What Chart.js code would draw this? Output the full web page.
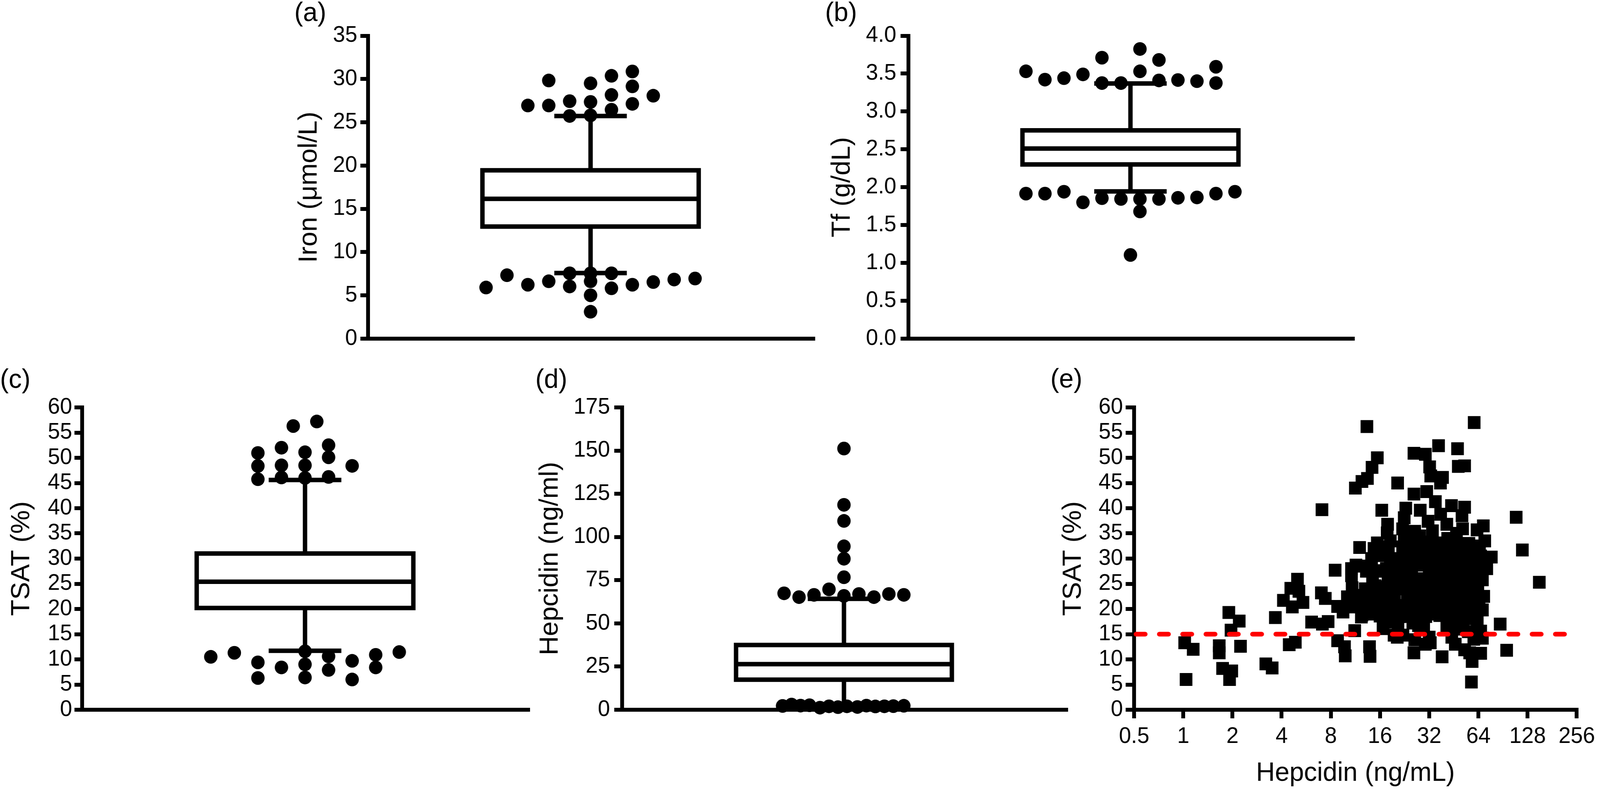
<!DOCTYPE html>
<html>
<head>
<meta charset="utf-8">
<script src="https://cdn.jsdelivr.net/npm/chart.js@4/dist/chart.umd.min.js"></script>
<style>
html,body{margin:0;padding:0;background:#ffffff;overflow:hidden;}
#root{position:absolute;left:0;top:0;width:4169px;height:2025px;transform-origin:0 0;background:#fff;overflow:hidden;
      font-family:'Liberation Sans',Arial,Helvetica,sans-serif;}
canvas{position:absolute;}
.lbl{position:absolute;font-size:68px;line-height:68px;color:#000;white-space:nowrap;font-family:'Liberation Sans',Arial,Helvetica,sans-serif;}
</style>
</head>
<body>
<div id="root">
<div class="lbl" style="left:767px;top:-4px">(a)</div>
<div class="lbl" style="left:2150px;top:-4px">(b)</div>
<div class="lbl" style="left:0px;top:935px">(c)</div>
<div class="lbl" style="left:1395px;top:935px">(d)</div>
<div class="lbl" style="left:2737px;top:934px">(e)</div>
<canvas id="chartA"></canvas>
<canvas id="chartB"></canvas>
<canvas id="chartC"></canvas>
<canvas id="chartD"></canvas>
<canvas id="chartE"></canvas>
</div>
<script>
// ---------------- DATA ----------------
// Box statistics: [lower whisker, Q1, median, Q3, upper whisker]
const ironBox = [7.58, 12.95, 16.16, 19.45, 25.73];
const ironOutliers = [26.94, 29.83, 26.94, 27.44, 25.73, 29.5, 27.35, 25.8, 30.37, 28.16, 26.45, 30.87, 29.15, 27.13, 28.07,
                      5.91, 7.33, 6.23, 6.63, 7.55, 6.03, 7.55, 6.63, 5.01, 3.11, 7.55, 5.82, 6.23, 6.54, 6.83, 6.95];
const ironSwarmColumns = [-3, -2, -2, -1, -1, 0, 0, 0, 1, 1, 1, 2, 2, 2, 3,
                          -5, -4, -3, -2, -1, -1, 0, 0, 0, 0, 1, 1, 2, 3, 4, 5];
const ironTicks = [0, 5, 10, 15, 20, 25, 30, 35];
const ironTickLabels = ['0', '5', '10', '15', '20', '25', '30', '35'];

const tfBox = [1.945, 2.30, 2.51, 2.75, 3.37];
const tfOutliers = [3.53, 3.42, 3.44, 3.49, 3.71, 3.375, 3.375, 3.825, 3.53, 3.68, 3.41, 3.415, 3.40, 3.59, 3.375,
                    1.915, 1.915, 1.94, 1.80, 1.855, 1.845, 1.845, 1.68, 1.845, 1.86, 1.865, 1.915, 1.94, 1.105];
const tfSwarmColumns = [-5.5, -4.5, -3.5, -2.5, -1.5, -1.5, -0.5, 0.5, 0.5, 1.5, 1.5, 2.5, 3.5, 4.5, 4.5,
                        -5.5, -4.5, -3.5, -2.5, -1.5, -0.5, 0.5, 0.5, 1.5, 2.5, 3.5, 4.5, 5.5, 0];
const tfTicks = [0, 0.5, 1, 1.5, 2, 2.5, 3, 3.5, 4];
const tfTickLabels = ['0.0', '0.5', '1.0', '1.5', '2.0', '2.5', '3.0', '3.5', '4.0'];

const tsatBox = [11.7, 20.2, 25.4, 31.0, 45.6];
const tsatOutliers = [50.95, 48.37, 45.75, 52.0, 48.5, 46.1, 51.1, 48.5, 46.0, 52.5, 50.1, 46.2, 48.4, 56.3, 57.2,
                      10.5, 11.3, 9.4, 6.3, 8.4, 11.6, 9.0, 6.4, 10.6, 7.9, 9.7, 6.0, 10.9, 8.4, 11.45];
const tsatSwarmColumns = [-2, -2, -2, -1, -1, -1, 0, 0, 0, 1, 1, 1, 2, -0.5, 0.5,
                          -4, -3, -2, -2, -1, 0, 0, 0, 1, 1, 2, 2, 3, 3, 4];
const tsatTicks = [0, 5, 10, 15, 20, 25, 30, 35, 40, 45, 50, 55, 60];
const tsatTickLabels = ['0', '5', '10', '15', '20', '25', '30', '35', '40', '45', '50', '55', '60'];

const hepBox = [2.0, 17.4, 26.4, 37.5, 64.2];
const hepOutliers = [151.2, 118.6, 109.3, 94.6, 87.4, 76.7, 65.9, 67.4, 65.2, 66.5, 69.7, 67.0, 65.2, 67.0, 66.5,
                     2.2, 3.0, 2.4, 2.6, 1.2, 2.0, 1.5, 2.0, 1.6, 2.4, 1.9, 2.0, 2.1, 2.3];
const hepSwarmColumns = [0, 0, 0, 0, 0, 0, 0, -4, -3, -2, -1, 1, 2, 3, 4,
                         -4.1, -3.5, -2.9, -2.3, -1.6, -1.0, -0.4, 0.2, 0.9, 1.5, 2.1, 2.7, 3.3, 4.0];
const hepTicks = [0, 25, 50, 75, 100, 125, 150, 175];
const hepTickLabels = ['0', '25', '50', '75', '100', '125', '150', '175'];

// Panel (e): hepcidin (ng/mL) vs TSAT (%)
const hepLogTicks = [0.5, 1, 2, 4, 8, 16, 32, 64, 128, 256];
const hepLogTickLabels = ['0.5', '1', '2', '4', '8', '16', '32', '64', '128', '256'];
const tsatThreshold = 15;
const hepcidinTsatPairs = [
 [1.02,13.3],[1.15,12.0],[1.04,6.0],[1.66,12.7],[1.66,11.3],[1.74,8.2],[1.98,7.7],[1.92,6.0],[1.90,19.3],[2.2,17.6],
 [1.96,15.8],[2.24,12.6],[3.2,9.1],[3.5,8.3],[3.66,18.3],[4.45,12.9],[4.85,13.4],[4.1,21.7],[4.65,20.4],[5.4,21.3],
 [4.55,24.1],[5.0,25.9],[5.1,23.5],[7.0,23.2],[7.4,22.1],[6.1,17.4],[7.1,17.0],[7.7,17.5],[7.06,39.7],
 [8.5,27.7],[8.8,20.5],[9.5,19.4],[8.8,13.7],[9.7,12.5],[9.8,10.7],[13.8,12.5],[13.9,10.6],[11.2,15.7],[10.3,21.9],
 [11.2,20.4],[11.2,22.7],[13.1,21.8],[13.5,19.0],[12.4,18.8],[15.7,20.4],[10.1,22.4],[10.8,24.2],[10.7,26.6],[10.7,28.0],
 [11.4,28.7],[12.0,28.5],[12.0,32.2],[11.3,44.0],[12.4,45.3],[13.4,45.9],[14.3,48.1],[15.4,50.0],[13.3,56.2],[13.9,21.2],
 [12.3,18.4],[11.7,20.6],[14.9,24.6],[15.5,27.6],[15.4,33.1],[14.4,26.2],[13.0,24.0],[14.2,30.0],
 [16.6,32.3],[16.2,30.6],[16.4,39.6],[17.8,36.8],[17.7,35.1],[16.0,27.5],[16.9,24.4],[16.2,19.0],[16.7,16.1],[17.2,17.4],
 [17.9,26.3],[16.3,23.9],[16.0,18.6],[16.4,22.1],
 [60.3,57.0],[36.5,52.4],[47.7,51.8],[25.8,50.9],[30.3,50.7],[48.2,48.3],[52.7,48.4],[32.2,48.2],[32.7,46.4],[38.6,46.1],
 [37.5,45.0],[20.5,45.0],[25.8,42.8],[30.9,43.3],[34.9,41.3],[43.8,40.5],[52.7,40.2],[23.0,40.0],[28.2,39.6],[37.6,38.8],
 [109.0,38.2],[50.8,38.5],[22.5,38.1],[31.5,37.4],[41.0,36.8],[68.6,36.5],[22.0,35.9],[26.1,35.4],[51.2,35.9],[62.8,35.7],
 [22.0,32.3],[26.1,33.1],[37.1,33.1],[65.0,32.5],[118.9,31.7],[76.8,30.3],[24.2,30.6],[30.3,30.8],[47.7,31.4],[67.7,29.7],
 [31.7,33.3],[51.7,32.9],
 [19.8,28.0],[37.9,28.0],[46.2,27.7],[64.6,27.5],[151.0,25.3],[22.5,26.3],[32.0,26.9],[55.3,26.9],[67.7,25.8],[19.3,24.9],
 [26.1,24.6],[44.0,25.2],[61.6,25.2],[22.1,28.0],[27.2,28.7],[33.2,27.8],[38.0,29.7],[45.8,27.8],[52.8,28.3],
 [24.2,22.9],[36.0,23.5],[52.7,22.9],[19.3,21.5],[43.1,22.1],[22.0,20.7],[29.5,20.4],[39.2,20.9],[64.6,20.7],[67.7,19.8],
 [19.6,23.0],[24.6,24.2],[30.3,24.9],[37.2,24.9],[44.8,23.9],[52.8,24.9],[20.9,20.5],[26.0,20.0],[35.7,21.0],[45.8,20.0],
 [56.7,19.6],[37.1,18.7],[48.6,18.4],[56.6,18.1],[87.0,17.0],[20.6,16.1],[27.5,16.7],[66.1,15.6],[25.4,17.2],[29.6,16.2],
 [22.1,14.8],[19.5,14.8],[20.4,14.4],[26.1,13.9],[32.0,14.4],[44.0,14.4],[67.7,14.2],[30.3,13.0],[46.2,13.0],[52.7,11.9],
 [95.3,11.8],[66.1,11.2],[25.8,11.3],[38.4,10.5],[58.6,9.6],[58.0,5.5],[56.6,11.3],[32.5,13.3],
 [18.5,29.5],[20.5,26.5],[23.5,27.0],[25.0,29.5],[28.5,31.5],[29.0,26.0],[31.0,29.0],[34.0,30.5],[35.5,26.5],[40.5,27.0],
 [42.0,30.0],[44.5,33.5],[48.0,29.5],[50.0,26.0],[54.5,30.0],[57.5,27.5],[59.0,23.5],[60.5,29.5],[56.0,33.0],[47.0,35.0],
 [41.5,34.0],[33.5,35.5],[28.0,34.5],[18.5,33.5],[18.0,22.5],[21.0,18.5],[23.5,21.5],[27.0,22.5],[29.5,23.0],[32.5,21.5],
 [34.5,19.5],[40.0,22.5],[42.5,19.0],[47.0,22.0],[50.5,21.0],[54.0,20.0],[58.0,22.0],[61.5,23.0],[30.5,18.5],[41.0,16.5],
 [45.5,16.5],[51.5,16.0],[55.5,15.5],[33.5,24.0],[39.0,25.5],[28.0,19.0],[24.0,18.5],[19.0,19.5],[63.0,17.5],[60.0,14.0],
 [70.0,33.5],[72.0,28.0],[69.0,22.5],
 [17.0,20.5],[17.5,28.0],[18.0,31.0],[18.8,25.5],[19.5,17.5],[20.0,30.0],[21.0,24.0],[21.5,29.0],[22.5,34.0],[23.0,25.5],
 [23.5,31.5],[24.5,19.5],[25.0,26.5],[26.5,30.5],[27.0,21.0],[27.5,25.0],[28.5,17.5],[29.0,33.0],[30.0,22.0],[31.5,31.0],
 [32.0,24.5],[33.0,19.0],[34.0,28.5],[35.0,33.0],[36.0,22.0],[36.5,29.5],[38.5,31.5],[39.0,19.5],[40.0,24.0],[41.0,28.5],
 [42.5,32.0],[43.5,21.0],[45.0,26.0],[46.0,30.0],[47.5,24.0],[49.0,27.0],[50.0,32.5],[51.0,18.5],[53.0,27.5],[55.0,24.0],
 [57.0,30.5],[59.5,26.0],[61.0,19.0],[63.5,25.0],[66.0,30.5],[14.0,20.0],[15.0,22.5],[13.2,27.5],[14.7,32.0]
];

// ---------------- STYLE / LAYOUT ----------------
const PAGE_W = 4169, PAGE_H = 2025;
const FONT = "'Liberation Sans', Arial, Helvetica, sans-serif";
const TICK_FONT = 57, TITLE_FONT = 68;
const BOX_HALF = 0.486, CAP_HALF = 0.163;
const LAYOUT = {
  a: {canvas: [765, 0, 1371, 927],  area: {l: 959,    r: 2130, t: 91.5, b: 867},  tickLen: 20, tickPad: 8,  dotPx: 55},
  b: {canvas: [2154, 0, 1388, 927], area: {l: 2366.5, r: 3536, t: 91.5, b: 867},  tickLen: 20, tickPad: 11, dotPx: 50},
  c: {canvas: [16, 940, 1377, 936], area: {l: 214,    r: 1387, t: 1043, b: 1817}, tickLen: 20, tickPad: 6,  dotPx: 62},
  d: {canvas: [1393, 940, 1402, 936], area: {l: 1620.5, r: 2789, t: 1043, b: 1817}, tickLen: 20, tickPad: 11, dotPx: 39.4},
  e: {canvas: [2756, 940, 1413, 1081], area: {l: 2955,  r: 4119, t: 1043, b: 1817}, tickLen: 22, tickPad: 7, xTickPad: 13}
};

// Fit the 4169x2025 design into whatever CSS viewport the browser reports.
(function fitRoot() {
  const vw = window.innerWidth || document.documentElement.clientWidth || PAGE_W;
  const vh = window.innerHeight || document.documentElement.clientHeight || PAGE_H;
  document.getElementById('root').style.transform = 'scale(' + (vw / PAGE_W) + ',' + (vh / PAGE_H) + ')';
})();

function setupCanvas(id, lay) {
  const c = document.getElementById(id);
  const [left, top, w, h] = lay.canvas;
  c.style.left = left + 'px'; c.style.top = top + 'px';
  c.width = w; c.height = h;
  c.style.width = w + 'px'; c.style.height = h + 'px';
  return c;
}
function geom(lay) {
  const [left, top, w, h] = lay.canvas;
  return {yW: lay.area.l - left, xH: top + h - lay.area.b, padTop: lay.area.t - top, padRight: left + w - lay.area.r};
}
function yScaleOpts(lay, g, min, max, ticks, labels, title) {
  return {
    type: 'linear', position: 'left', min: min, max: max,
    afterBuildTicks: s => { s.ticks = ticks.map(v => ({value: v})); },
    afterFit: s => { s.width = g.yW; },
    ticks: {autoSkip: false, color: '#000', padding: lay.tickPad, font: {family: FONT, size: TICK_FONT},
            callback: (v, i) => labels[i]},
    grid: {drawOnChartArea: false, drawTicks: true, tickLength: lay.tickLen, tickWidth: 10, lineWidth: 10,
           tickColor: '#000', color: '#000'},
    border: {display: true, width: 10, color: '#000'},
    title: {display: true, text: title, color: '#000', padding: 0, font: {family: FONT, size: TITLE_FONT}}
  };
}
function baseOptions(g, scales) {
  return {
    responsive: false, animation: false, events: [], devicePixelRatio: 1,
    layout: {padding: {left: 0, top: g.padTop, right: g.padRight, bottom: 0}},
    plugins: {legend: {display: false}, tooltip: {enabled: false}},
    scales: scales
  };
}
function lineDs(points, extra) {
  return Object.assign({
    data: points, showLine: true, borderColor: '#000', borderWidth: 11.5, pointRadius: 0,
    borderCapStyle: 'butt', borderJoinStyle: 'miter', fill: false, clip: false
  }, extra || {});
}
function buildBoxPanel(id, lay, stats, outliers, columns, min, max, ticks, labels, title) {
  const canvas = setupCanvas(id, lay);
  const g = geom(lay);
  const [lo, q1, med, q3, hi] = stats;
  const step = lay.dotPx * 2 / (lay.area.r - lay.area.l);
  const datasets = [
    {data: outliers.map((v, i) => ({x: columns[i] * step, y: v})), showLine: false, pointStyle: 'circle',
     pointRadius: 17.5, pointBackgroundColor: '#000', pointBorderWidth: 0, backgroundColor: '#000', clip: false},
    lineDs([{x: -BOX_HALF, y: q1}, {x: BOX_HALF, y: q1}, {x: BOX_HALF, y: q3}, {x: -BOX_HALF, y: q3}, {x: -BOX_HALF, y: q1}],
           {borderCapStyle: 'square'}),
    lineDs([{x: -BOX_HALF, y: med}, {x: BOX_HALF, y: med}]),
    lineDs([{x: 0, y: q3}, {x: 0, y: hi}]),
    lineDs([{x: -CAP_HALF, y: hi}, {x: CAP_HALF, y: hi}]),
    lineDs([{x: 0, y: lo}, {x: 0, y: q1}]),
    lineDs([{x: -CAP_HALF, y: lo}, {x: CAP_HALF, y: lo}])
  ];
  const scales = {
    x: {type: 'linear', position: 'bottom', min: -1, max: 1,
        afterFit: s => { s.height = g.xH; },
        ticks: {display: false},
        grid: {drawOnChartArea: false, drawTicks: false, lineWidth: 10, color: '#000'},
        border: {display: true, width: 10, color: '#000'}},
    y: yScaleOpts(lay, g, min, max, ticks, labels, title)
  };
  return new Chart(canvas, {type: 'scatter', data: {datasets: datasets}, options: baseOptions(g, scales)});
}
function buildScatterPanel(id, lay) {
  const canvas = setupCanvas(id, lay);
  const g = geom(lay);
  const datasets = [
    lineDs([{x: hepLogTicks[0], y: tsatThreshold}, {x: hepLogTicks[hepLogTicks.length - 1], y: tsatThreshold}],
           {borderColor: '#ff0000', borderWidth: 12, borderDash: [24, 36.7], borderDashOffset: -5, borderCapStyle: 'round'}),
    {data: hepcidinTsatPairs.map(p => ({x: p[0], y: p[1]})), showLine: false, pointStyle: 'rect',
     pointRadius: 23.3, pointBackgroundColor: '#000', pointBorderWidth: 0, backgroundColor: '#000', clip: false}
  ];
  const scales = {
    x: {type: 'logarithmic', position: 'bottom', min: hepLogTicks[0], max: hepLogTicks[hepLogTicks.length - 1],
        afterBuildTicks: s => { s.ticks = hepLogTicks.map(v => ({value: v})); },
        afterFit: s => { s.height = g.xH; },
        ticks: {autoSkip: false, align: 'center', maxRotation: 0, minRotation: 0, color: '#000', padding: lay.xTickPad,
                font: {family: FONT, size: TICK_FONT}, callback: (v, i) => hepLogTickLabels[i]},
        grid: {drawOnChartArea: false, drawTicks: true, tickLength: lay.tickLen, tickWidth: 10, lineWidth: 10,
               tickColor: '#000', color: '#000'},
        border: {display: true, width: 10, color: '#000'},
        title: {display: true, text: 'Hepcidin (ng/mL)', color: '#000', padding: 0, font: {family: FONT, size: TITLE_FONT}}},
    y: yScaleOpts(lay, g, 0, 60, tsatTicks, tsatTickLabels, 'TSAT (%)')
  };
  return new Chart(canvas, {type: 'scatter', data: {datasets: datasets}, options: baseOptions(g, scales)});
}

buildBoxPanel('chartA', LAYOUT.a, ironBox, ironOutliers, ironSwarmColumns, 0, 35, ironTicks, ironTickLabels, 'Iron (\u03bcmol/L)');
buildBoxPanel('chartB', LAYOUT.b, tfBox, tfOutliers, tfSwarmColumns, 0, 4, tfTicks, tfTickLabels, 'Tf (g/dL)');
buildBoxPanel('chartC', LAYOUT.c, tsatBox, tsatOutliers, tsatSwarmColumns, 0, 60, tsatTicks, tsatTickLabels, 'TSAT (%)');
buildBoxPanel('chartD', LAYOUT.d, hepBox, hepOutliers, hepSwarmColumns, 0, 175, hepTicks, hepTickLabels, 'Hepcidin (ng/ml)');
buildScatterPanel('chartE', LAYOUT.e);
</script>
</body>
</html>
